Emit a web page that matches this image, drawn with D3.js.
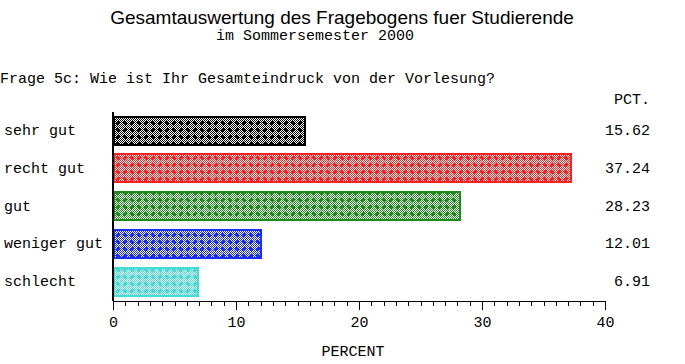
<!DOCTYPE html>
<html>
<head>
<meta charset="utf-8">
<script src="https://cdn.jsdelivr.net/npm/d3@7"></script>
<style>
  body { margin: 0; background: #fff; }
  svg { display: block; }
</style>
</head>
<body>
<div id="chart"></div>
<script>
const categories = ["sehr gut", "recht gut", "gut", "weniger gut", "schlecht"];
const percents = [15.62, 37.24, 28.23, 12.01, 6.91];
const colors = ["#000000", "#ff2020", "#1a8c1a", "#1a2cff", "#40dcd8"];
const majorTicks = [0, 10, 20, 30, 40];

const width = 685, height = 364;
const mono = "'Liberation Mono', 'Courier New', monospace";

const svg = d3.select("#chart").append("svg")
    .attr("width", width)
    .attr("height", height);

// pixel patterns: 1px checkerboard with coarser round dots
const defs = svg.append("defs");
const tile = 14;
const dotShape = [[1,0],[2,0],[0,1],[1,1],[2,1],[3,1],[0,2],[1,2],[2,2],[3,2],[1,3],[2,3]];
colors.forEach((c, i) => {
    const p = defs.append("pattern")
        .attr("id", "pat" + i)
        .attr("patternUnits", "userSpaceOnUse")
        .attr("width", tile).attr("height", tile)
        .attr("x", 114).attr("y", 0);
    p.append("rect").attr("width", tile).attr("height", tile).attr("fill", "#fff");
    const cells = [];
    for (let y = 0; y < tile; y++)
        for (let x = 0; x < tile; x++)
            if ((x + y) % 2 === 0) cells.push([x, y]);
    [[2, 2], [9, 2], [2, 9], [9, 9]].forEach(o => {
        dotShape.forEach(s => cells.push([o[0] + s[0], o[1] + s[1]]));
    });
    p.selectAll("rect.px").data(cells).join("rect")
        .attr("class", "px")
        .attr("x", d => d[0]).attr("y", d => d[1])
        .attr("width", 1).attr("height", 1)
        .attr("fill", c);
});

const x = d3.scaleLinear().domain([0, 40]).range([113, 605]);
const y = d3.scaleBand().domain(categories).range([112, 299]).paddingInner(0.24).paddingOuter(0.1);

// titles
svg.append("text")
    .attr("x", 342).attr("y", 24)
    .attr("text-anchor", "middle")
    .style("font-family", "'Liberation Sans', Arial, sans-serif")
    .style("font-size", "19px")
    .text("Gesamtauswertung des Fragebogens fuer Studierende");
svg.append("text")
    .attr("x", 315).attr("y", 40)
    .attr("text-anchor", "middle")
    .style("font-family", mono)
    .style("font-size", "15px")
    .text("im Sommersemester 2000");
svg.append("text")
    .attr("x", 0).attr("y", 83)
    .style("font-family", mono)
    .style("font-size", "15px")
    .text("Frage 5c: Wie ist Ihr Gesamteindruck von der Vorlesung?");
svg.append("text")
    .attr("x", 650).attr("y", 104)
    .attr("text-anchor", "end")
    .style("font-family", mono)
    .style("font-size", "15px")
    .text("PCT.");

const rows = categories.map((c, i) => ({ cat: c, val: percents[i], i }));

// bars
svg.append("g").selectAll("rect").data(rows).join("rect")
    .attr("x", x(0) + 1)
    .attr("y", d => Math.round(y(d.cat)) + 1)
    .attr("width", d => x(d.val) - x(0) - 1)
    .attr("height", Math.round(y.bandwidth()) - 1)
    .attr("fill", d => `url(#pat${d.i})`)
    .attr("stroke", d => colors[d.i])
    .attr("stroke-width", 2)
    .style("shape-rendering", "crispEdges");

// category labels
svg.append("g").selectAll("text").data(rows).join("text")
    .attr("x", 4)
    .attr("y", d => y(d.cat) + y.bandwidth() / 2 + 5)
    .style("font-family", mono)
    .style("font-size", "15px")
    .text(d => d.cat);

// value labels
svg.append("g").selectAll("text").data(rows).join("text")
    .attr("x", 650)
    .attr("y", d => y(d.cat) + y.bandwidth() / 2 + 5)
    .attr("text-anchor", "end")
    .style("font-family", mono)
    .style("font-size", "15px")
    .text(d => d3.format(".2f")(d.val));

// vertical axis line
svg.append("line")
    .attr("x1", x(0)).attr("x2", x(0))
    .attr("y1", 112).attr("y2", 301)
    .attr("stroke", "#000")
    .attr("stroke-width", 1.5)
    .style("shape-rendering", "crispEdges");

// x axis: minor ticks then major ticks with labels
const minor = svg.append("g")
    .attr("transform", "translate(0,301)")
    .call(d3.axisBottom(x).tickValues(d3.range(0, 41, 1)).tickSize(5).tickSizeOuter(0).tickFormat(""));
const major = svg.append("g")
    .attr("transform", "translate(0,301)")
    .call(d3.axisBottom(x).tickValues(majorTicks).tickSize(9).tickSizeOuter(0).tickPadding(6));
[minor, major].forEach(g => {
    g.selectAll("path, line").attr("stroke", "#000").style("shape-rendering", "crispEdges");
});
major.selectAll("text")
    .attr("fill", "#000")
    .style("font-family", mono)
    .style("font-size", "15px");

svg.append("text")
    .attr("x", 353).attr("y", 356)
    .attr("text-anchor", "middle")
    .style("font-family", mono)
    .style("font-size", "15px")
    .text("PERCENT");
</script>
</body>
</html>
